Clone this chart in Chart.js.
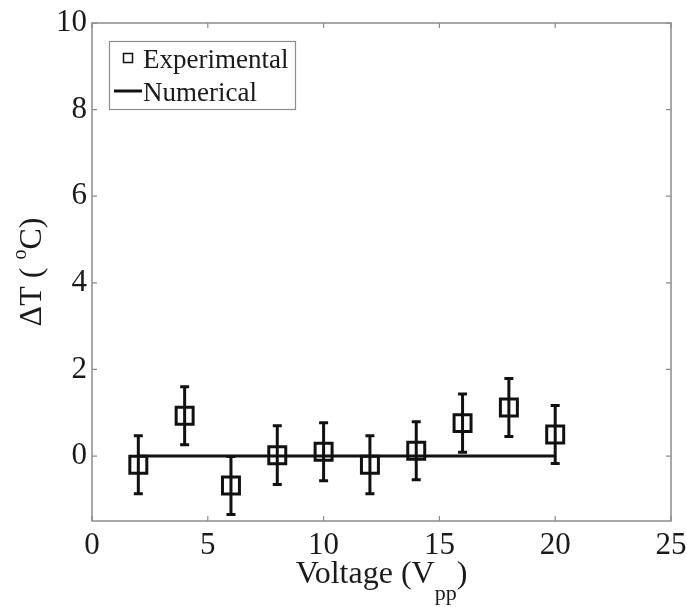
<!DOCTYPE html>
<html>
<head>
<meta charset="utf-8">
<script src="https://cdn.jsdelivr.net/npm/chart.js@4.4.1/dist/chart.umd.min.js"></script>
<style>
  html, body { margin: 0; padding: 0; background: #fff; }
  canvas { display: block; }
</style>
</head>
<body>
<canvas id="c" width="687" height="607"></canvas>
<script>
// Measured temperature rise with symmetric error bars
const voltage = [2, 4, 6, 8, 10, 12, 14, 16, 18, 20];
const deltaT = [-0.2, 0.93, -0.68, 0.02, 0.1, -0.2, 0.12, 0.76, 1.12, 0.5];
const deltaTErr = [0.67, 0.67, 0.67, 0.68, 0.67, 0.67, 0.67, 0.67, 0.67, 0.67];

// Numerical prediction
const numericalX = [2, 20];
const numericalY = [0, 0];

// Axis ticks
const xTicks = [0, 5, 10, 15, 20, 25];
const yTicks = [0, 2, 4, 6, 8, 10];

const SERIF = '"Liberation Serif", "Times New Roman", serif';
const INK = '#111';
const TEXT = '#1a1a1a';
const FRAME = '#8c8c8c';

const expPoints = voltage.map((v, i) => ({ x: v, y: deltaT[i] }));
const numPoints = numericalX.map((v, i) => ({ x: v, y: numericalY[i] }));

// Box around the plot with inward tick marks on all four sides
const framePlugin = {
  id: 'frame',
  beforeDatasetsDraw(chart) {
    const { ctx, chartArea: a, scales } = chart;
    ctx.save();
    ctx.strokeStyle = FRAME;
    ctx.lineWidth = 1.5;
    ctx.strokeRect(a.left, a.top, a.right - a.left, a.bottom - a.top);
    ctx.lineWidth = 1.2;
    const len = 5;
    ctx.beginPath();
    scales.x.ticks.forEach(t => {
      const px = scales.x.getPixelForValue(t.value);
      ctx.moveTo(px, a.bottom); ctx.lineTo(px, a.bottom - len);
      ctx.moveTo(px, a.top); ctx.lineTo(px, a.top + len);
    });
    scales.y.ticks.forEach(t => {
      const py = scales.y.getPixelForValue(t.value);
      ctx.moveTo(a.left, py); ctx.lineTo(a.left + len, py);
      ctx.moveTo(a.right, py); ctx.lineTo(a.right - len, py);
    });
    ctx.stroke();
    ctx.restore();
  }
};

// Vertical error bars with caps for the experimental series
const errorBarPlugin = {
  id: 'errorBars',
  afterDatasetsDraw(chart) {
    const { ctx, scales } = chart;
    const cap = 4.5;
    ctx.save();
    ctx.strokeStyle = INK;
    ctx.lineWidth = 3;
    ctx.lineCap = 'butt';
    voltage.forEach((v, i) => {
      const px = scales.x.getPixelForValue(v);
      const top = scales.y.getPixelForValue(deltaT[i] + deltaTErr[i]);
      const bot = scales.y.getPixelForValue(deltaT[i] - deltaTErr[i]);
      ctx.beginPath();
      ctx.moveTo(px, top); ctx.lineTo(px, bot);
      ctx.moveTo(px - cap, top); ctx.lineTo(px + cap, top);
      ctx.moveTo(px - cap, bot); ctx.lineTo(px + cap, bot);
      ctx.stroke();
    });
    ctx.restore();
  }
};

// Draws a run of text pieces (normal / raised / lowered) starting at x
function drawRuns(ctx, runs, x, y) {
  let cx = x;
  runs.forEach(r => {
    ctx.font = r.size + 'px ' + SERIF;
    ctx.fillText(r.text, cx, y - (r.shift || 0));
    cx += ctx.measureText(r.text).width;
  });
}
function runsWidth(ctx, runs) {
  let w = 0;
  runs.forEach(r => { ctx.font = r.size + 'px ' + SERIF; w += ctx.measureText(r.text).width; });
  return w;
}

// Axis titles with super/subscripts, and the legend box
const annotationPlugin = {
  id: 'annotations',
  afterDraw(chart) {
    const { ctx, chartArea: a } = chart;
    ctx.save();
    ctx.fillStyle = TEXT;
    ctx.textBaseline = 'alphabetic';
    ctx.textAlign = 'left';

    // x title
    const xRuns = [
      { text: 'Voltage (V', size: 32 },
      { text: 'pp', size: 22, shift: -17 },
      { text: ')', size: 32 }
    ];
    const cx = (a.left + a.right) / 2;
    drawRuns(ctx, xRuns, cx - runsWidth(ctx, xRuns) / 2, 583);

    // y title
    const yRuns = [
      { text: 'ΔT ( ', size: 32 },
      { text: 'o', size: 20, shift: 15 },
      { text: 'C)', size: 32 }
    ];
    const cy = (a.top + a.bottom) / 2;
    ctx.translate(41, cy);
    ctx.rotate(-Math.PI / 2);
    drawRuns(ctx, yRuns, -runsWidth(ctx, yRuns) / 2, 0);
    ctx.setTransform(1, 0, 0, 1, 0, 0);

    // legend
    const ds = chart.data.datasets;
    ctx.strokeStyle = FRAME;
    ctx.lineWidth = 1.2;
    ctx.strokeRect(109.5, 41.5, 186, 68);
    ctx.strokeStyle = INK;
    ctx.lineWidth = 1.5;
    ctx.strokeRect(123.5, 53.5, 9, 9);
    ctx.lineWidth = 3;
    ctx.beginPath();
    ctx.moveTo(114, 91); ctx.lineTo(142, 91);
    ctx.stroke();
    ctx.font = '27px ' + SERIF;
    ctx.fillStyle = TEXT;
    ctx.fillText(ds[0].label, 143, 68);
    ctx.fillText(ds[1].label, 143, 101);
    ctx.restore();
  }
};

new Chart(document.getElementById('c'), {
  type: 'scatter',
  data: {
    datasets: [
      {
        label: 'Experimental',
        data: expPoints,
        pointStyle: 'rect',
        pointRadius: 12,
        pointBorderWidth: 3,
        borderColor: INK,
        backgroundColor: 'rgba(0,0,0,0)',
        showLine: false
      },
      {
        label: 'Numerical',
        data: numPoints,
        showLine: true,
        borderColor: INK,
        borderWidth: 3,
        pointRadius: 0,
        fill: false
      }
    ]
  },
  options: {
    responsive: false,
    animation: false,
    devicePixelRatio: 1,
    events: [],
    layout: { padding: { left: 0, top: 23, right: 16, bottom: 0 } },
    plugins: { legend: { display: false }, tooltip: { enabled: false } },
    scales: {
      x: {
        type: 'linear',
        min: 0, max: 25,
        afterBuildTicks: s => { s.ticks = xTicks.map(v => ({ value: v })); },
        afterFit: s => { s.height = 86; s.paddingLeft = 0; s.paddingRight = 0; },
        grid: { display: false, drawTicks: false },
        border: { display: false },
        ticks: {
          padding: 6, maxRotation: 0, autoSkip: false, color: TEXT,
          font: { family: SERIF, size: 31 }
        }
      },
      y: {
        type: 'linear',
        min: -1.5, max: 10,
        afterBuildTicks: s => { s.ticks = yTicks.map(v => ({ value: v })); },
        afterFit: s => { s.width = 92; s.paddingTop = 0; s.paddingBottom = 0; },
        grid: { display: false, drawTicks: false },
        border: { display: false },
        ticks: {
          padding: 5, autoSkip: false, color: TEXT,
          font: { family: SERIF, size: 31 }
        }
      }
    }
  },
  plugins: [framePlugin, errorBarPlugin, annotationPlugin]
});
</script>
</body>
</html>
